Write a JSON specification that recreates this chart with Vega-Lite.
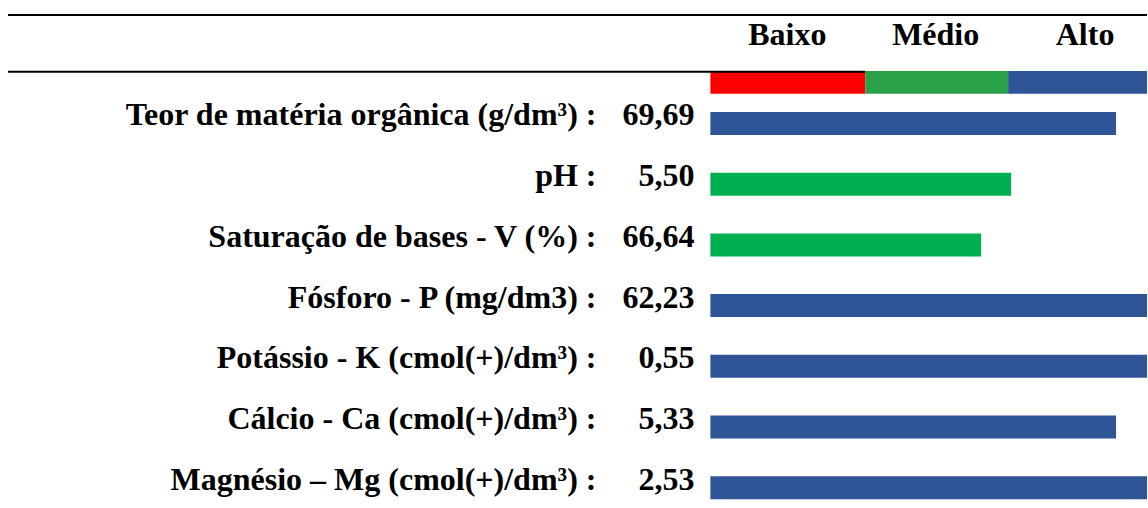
{
  "$schema": "https://vega.github.io/schema/vega-lite/v6.json",
  "width": 1148,
  "height": 508,
  "autosize": {"type": "fit", "contains": "padding"},
  "padding": 0,
  "background": "white",
  "config": {
    "view": {"stroke": null},
    "text": {"font": "Liberation Serif", "fontWeight": "bold", "fontSize": 32, "color": "black"}
  },
  "datasets": {
    "parametros": [
      {"parametro": "Teor de matéria orgânica (g/dm³) :", "valor": "69,69", "linha": 1, "nivel": 406, "classe": "Alto"},
      {"parametro": "pH :", "valor": "5,50", "linha": 2, "nivel": 301, "classe": "Médio"},
      {"parametro": "Saturação de bases - V (%) :", "valor": "66,64", "linha": 3, "nivel": 271, "classe": "Médio"},
      {"parametro": "Fósforo - P (mg/dm3) :", "valor": "62,23", "linha": 4, "nivel": 437, "classe": "Alto"},
      {"parametro": "Potássio - K (cmol(+)/dm³) :", "valor": "0,55", "linha": 5, "nivel": 437, "classe": "Alto"},
      {"parametro": "Cálcio - Ca (cmol(+)/dm³) :", "valor": "5,33", "linha": 6, "nivel": 406, "classe": "Alto"},
      {"parametro": "Magnésio – Mg (cmol(+)/dm³) :", "valor": "2,53", "linha": 7, "nivel": 437, "classe": "Alto"}
    ],
    "classes": [
      {"classe": "Baixo", "inicio": 0, "fim": 155, "centro": 77},
      {"classe": "Médio", "inicio": 155, "fim": 298, "centro": 225.5},
      {"classe": "Alto", "inicio": 298, "fim": 437, "centro": 375}
    ]
  },
  "resolve": {"scale": {"color": "independent"}},
  "layer": [
    {
      "data": {"name": "classes"},
      "mark": {"type": "rect"},
      "encoding": {
        "x": {"field": "inicio", "type": "quantitative", "scale": {"domain": [-711, 437], "nice": false, "zero": false, "padding": 0}, "axis": null},
        "x2": {"field": "fim"},
        "y": {"datum": 0.135, "type": "quantitative", "scale": {"domain": [-1.0346, 7.3345], "reverse": true, "nice": false, "zero": false, "padding": 0}, "axis": null},
        "y2": {"datum": 0.509},
        "color": {"field": "classe", "type": "nominal", "scale": {"domain": ["Baixo", "Médio", "Alto"], "range": ["#FF0000", "#2AA048", "#2F5597"]}, "legend": null}
      }
    },
    {
      "data": {"name": "classes"},
      "mark": {"type": "text", "align": "center", "baseline": "alphabetic"},
      "encoding": {
        "x": {"field": "centro", "type": "quantitative"},
        "y": {"datum": -0.293, "type": "quantitative"},
        "text": {"field": "classe"}
      }
    },
    {
      "data": {"values": [{}]},
      "mark": {"type": "rule", "color": "black", "strokeWidth": 2},
      "encoding": {
        "x": {"datum": -703, "type": "quantitative"},
        "x2": {"datum": 437},
        "y": {"datum": -0.7875, "type": "quantitative"}
      }
    },
    {
      "data": {"values": [{}]},
      "mark": {"type": "rule", "color": "black", "strokeWidth": 2},
      "encoding": {
        "x": {"datum": -703, "type": "quantitative"},
        "x2": {"datum": 155},
        "y": {"datum": 0.148, "type": "quantitative"}
      }
    },
    {
      "data": {"name": "parametros"},
      "mark": {"type": "bar", "orient": "horizontal", "size": 23},
      "encoding": {
        "x": {"field": "nivel", "type": "quantitative"},
        "x2": {"datum": 0},
        "y": {"field": "linha", "type": "quantitative"},
        "color": {"field": "classe", "type": "nominal", "scale": {"domain": ["Baixo", "Médio", "Alto"], "range": ["#FF0000", "#00B050", "#2F5597"]}, "legend": null}
      }
    },
    {
      "data": {"name": "parametros"},
      "mark": {"type": "text", "align": "right", "baseline": "alphabetic", "dy": 2},
      "encoding": {
        "x": {"datum": -114, "type": "quantitative"},
        "y": {"field": "linha", "type": "quantitative"},
        "text": {"field": "parametro"}
      }
    },
    {
      "data": {"name": "parametros"},
      "mark": {"type": "text", "align": "right", "baseline": "alphabetic", "dy": 2},
      "encoding": {
        "x": {"datum": -16, "type": "quantitative"},
        "y": {"field": "linha", "type": "quantitative"},
        "text": {"field": "valor"}
      }
    }
  ]
}
